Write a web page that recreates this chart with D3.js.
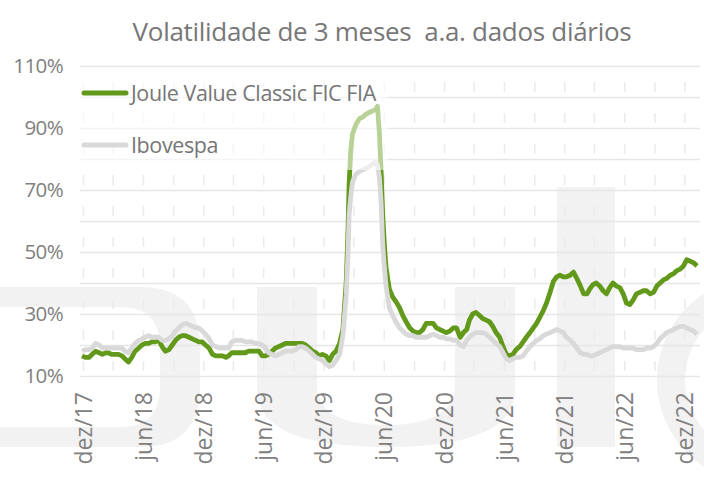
<!DOCTYPE html>
<html>
<head>
<meta charset="utf-8">
<script src="https://cdn.jsdelivr.net/npm/d3@7"></script>
<style>
  html, body { margin: 0; padding: 0; background: #fff; }
  svg { display: block; font-family: "Open Sans", sans-serif; }
  .title { white-space: pre; }
</style>
</head>
<body>
<svg id="chart" width="704" height="484"></svg>
<script>
// Volatilidade de 3 meses a.a. (dados diários)
const dates = [
  "2017-12-11","2017-12-21",
  "2018-01-01","2018-01-11","2018-01-21","2018-02-01","2018-02-11","2018-02-21","2018-03-01","2018-03-11","2018-03-21",
  "2018-04-01","2018-04-11","2018-04-21","2018-05-01","2018-05-11","2018-05-21","2018-06-01","2018-06-11","2018-06-21",
  "2018-07-01","2018-07-11","2018-07-21","2018-08-01","2018-08-11","2018-08-21","2018-09-01","2018-09-11","2018-09-21",
  "2018-10-01","2018-10-11","2018-10-21","2018-11-01","2018-11-11","2018-11-21","2018-12-01","2018-12-11","2018-12-21",
  "2019-01-01","2019-01-11","2019-01-21","2019-02-01","2019-02-11","2019-02-21","2019-03-01","2019-03-11","2019-03-21",
  "2019-04-01","2019-04-11","2019-04-21","2019-05-01","2019-05-11","2019-05-21","2019-06-01","2019-06-11","2019-06-21",
  "2019-07-01","2019-07-11","2019-07-21","2019-08-01","2019-08-11","2019-08-21","2019-09-01","2019-09-11","2019-09-21",
  "2019-10-01","2019-10-11","2019-10-21","2019-11-01","2019-11-11","2019-11-21","2019-12-01","2019-12-11","2019-12-21",
  "2020-01-01","2020-01-11","2020-01-21","2020-02-01","2020-02-11","2020-02-21","2020-02-26","2020-03-01","2020-03-06",
  "2020-03-11","2020-03-21","2020-04-01","2020-04-11","2020-04-21","2020-05-01","2020-05-11","2020-05-21","2020-05-26",
  "2020-06-01","2020-06-06","2020-06-11","2020-06-16","2020-06-21","2020-07-01","2020-07-11","2020-07-21",
  "2020-08-01","2020-08-11","2020-08-21","2020-09-01","2020-09-11","2020-09-21","2020-10-01","2020-10-11","2020-10-21",
  "2020-11-01","2020-11-11","2020-11-21","2020-12-01","2020-12-11","2020-12-21",
  "2021-01-01","2021-01-11","2021-01-21","2021-02-01","2021-02-11","2021-02-21","2021-03-01","2021-03-11","2021-03-21",
  "2021-04-01","2021-04-11","2021-04-21","2021-05-01","2021-05-11","2021-05-21","2021-06-01","2021-06-11","2021-06-21",
  "2021-07-01","2021-07-11","2021-07-21","2021-08-01","2021-08-11","2021-08-21","2021-09-01","2021-09-11","2021-09-21",
  "2021-10-01","2021-10-11","2021-10-21","2021-11-01","2021-11-11","2021-11-21","2021-12-01","2021-12-11","2021-12-21",
  "2022-01-01","2022-01-11","2022-01-21","2022-02-01","2022-02-11","2022-02-21","2022-03-01","2022-03-11","2022-03-21",
  "2022-04-01","2022-04-11","2022-04-21","2022-05-01","2022-05-11","2022-05-21","2022-06-01","2022-06-11","2022-06-21",
  "2022-07-01","2022-07-11","2022-07-21","2022-08-01","2022-08-11","2022-08-21","2022-09-01","2022-09-11","2022-09-21",
  "2022-10-01","2022-10-11","2022-10-21","2022-11-01","2022-11-11","2022-11-21","2022-12-01","2022-12-11","2022-12-21",
  "2023-01-01","2023-01-11","2023-01-21"
];

const joule = [
  16.5,16,
  16,17,18,17.5,17,17.5,17.5,17,17,
  17,16.5,15.5,14.5,16,18,19,20,20.5,
  20.5,21,21,21.5,19.5,18,18.5,20,21.5,
  22.5,23,23,22.5,22,21.5,21,21,20,
  19,17,16.5,16.5,16.5,16,16.5,17.5,17.5,
  17.5,17.5,17.5,18,18,18,18,16.5,16.5,
  17,18,19,19.5,20,20.5,20.5,20.5,20.5,
  20.5,20.5,20,19,18,17.5,16.5,17,16.5,
  15,17,18,20.5,25,40,55,72,83,
  88,91,93,93.5,94.5,95,95.5,96,97,
  88,76,62,52,45,38,35.5,34,
  32,29.5,27.5,25.5,24.5,24,24,25,27,
  27,27,25.5,25,24.5,24,
  24.5,25.5,25.5,22.5,24,25,28,30,30.5,
  29.5,28.5,28,27.5,26,24,22.5,19.5,17,
  16.5,17,18.5,19.5,21,22.5,24,25.5,27,
  29,31,33.5,37,40.5,42,42.5,42,42,
  42.5,43.5,41.5,39,36.5,36.5,38,39.5,40,
  39,37.5,36.5,38.5,40,39,38.5,36.5,33.5,
  33,34.5,36.5,37,37.5,37.5,36.5,37,39,
  40,41,41.5,42.5,43,44,44.5,45.5,47.5,
  47,46.5,45.5
];

const ibovespa = [
  18,18.5,
  18.5,19,20.5,20,19,19,19,19,19,
  19,19,18,17.5,19,20.5,21.5,22,22.5,
  23,22.5,22.5,22.5,21.5,21.5,22,23,24.5,
  25.5,26.5,27,26.5,26,25.5,25.5,24.5,23.5,
  22,20,19.5,19,19,19,19,21,21.5,
  21.5,21.5,21,21,21,20.5,20.5,20,19,
  17.5,17,16.5,17,17.5,18,18,18,18.5,
  19.5,19.5,19,18,17,16,15.5,15,14,
  13,13.5,15,17,23,36,48,62,68,
  72.5,75,76,76.5,77,77.5,78.5,79,78,
  74,66,52,45,39,32,29.5,27.5,
  25.5,24.5,23.5,23,23,22.5,22.5,22.5,22.5,
  23,23.5,23,22.5,22.5,22,
  22,21.5,21.5,20,19.5,21.5,22.5,23.5,24,
  24,24,23.5,22.5,21.5,20.5,19.5,17.5,15.5,
  15,15.5,16,16,16.5,18,19.5,20.5,21.5,
  22,23,23.5,24,24.5,25,24.5,24,22.5,
  21.5,20.5,19,17.5,17,17,16.5,16.5,17,
  17.5,18,18.5,19,19.5,19.5,19.5,19,19,
  19,19,18.5,18.5,18.5,19,19,19.5,20.5,
  22,23,24,24.5,25,25.5,26,26,25.5,
  25,24.5,23.5
];

const tickDates = ["2017-12-14","2018-06-14","2018-12-14","2019-06-14","2019-12-14","2020-06-14",
                   "2020-12-14","2021-06-14","2021-12-14","2022-06-14","2022-12-14"];
const tickLabels = ["dez/17","jun/18","dez/18","jun/19","dez/19","jun/20",
                    "dez/20","jun/21","dez/21","jun/22","dez/22"];
const yTicks = [10, 30, 50, 70, 90, 110];
const seriesNames = ["Joule Value Classic FIC FIA", "Ibovespa"];
const title = "Volatilidade de 3 meses  a.a. dados diários";

const parse = d3.timeParse("%Y-%m-%d");
const svg = d3.select("#chart");

const x = d3.scaleTime()
  .domain([parse(dates[0]), parse(dates[dates.length - 1])])
  .range([82, 697]);
const y = d3.scaleLinear().domain([10, 110]).range([376, 66]);

// watermark (logo letters, very faint)
const wm = svg.append("g").attr("fill", "#f2f2f2");
wm.append("path").attr("fill-rule", "evenodd")
  .attr("d", "M-200,347 Q-200,287 -140,287 H140 Q200,287 200,347 V387 Q200,447 140,447 H-140 Q-200,447 -200,387 Z" +
             "M-160,347 Q-160,307 -120,307 H120 Q160,307 160,347 V387 Q160,427 120,427 H-120 Q-160,427 -160,387 Z");
wm.append("path")
  .attr("d", "M257,287 H317 V385 Q317,425 386,425 Q455,425 455,385 V287 H515 V390 Q515,447 386,447 Q257,447 257,390 Z");
wm.append("rect").attr("x", 557).attr("y", 187).attr("width", 58).attr("height", 260);
wm.append("path").attr("fill-rule", "evenodd")
  .attr("d", "M657,380 A103,103 0 1,0 863,380 A103,103 0 1,0 657,380 Z M685,380 A75,75 0 1,0 835,380 A75,75 0 1,0 685,380 Z");

// horizontal gridlines every 10%
svg.append("g")
  .attr("transform", "translate(80,0)")
  .call(d3.axisLeft(y).tickValues(d3.range(10, 111, 10)).tickSize(-620).tickFormat(""))
  .call(g => g.select(".domain").remove())
  .call(g => g.selectAll("line").attr("stroke", "#e6e6e6").attr("stroke-width", 1.6));

// vertical dashed gridlines every 3 months
const t0 = parse(tickDates[0]);
const qDates = d3.range(0, 21).map(i => d3.timeMonth.offset(t0, i * 3));
svg.append("g")
  .attr("transform", "translate(0,376)")
  .call(d3.axisBottom(x).tickValues(qDates).tickSize(-310).tickFormat(""))
  .call(g => g.select(".domain").remove())
  .call(g => g.selectAll("line").attr("stroke", "#ebebeb").attr("stroke-width", 1.5)
    .attr("stroke-dasharray", "0 5 10 16"));

// series
const rows = dates.map((d, i) => ({ date: parse(d), a: joule[i], b: ibovespa[i] }));
const line = key => d3.line().x(d => x(d.date)).y(d => y(d[key]));
svg.append("path").datum(rows)
  .attr("fill", "none").attr("stroke", "#62991a").attr("stroke-width", 4.8)
  .attr("stroke-linejoin", "round").attr("d", line("a"));
svg.append("path").datum(rows)
  .attr("fill", "none").attr("stroke", "#d9d9d9").attr("stroke-width", 4.8)
  .attr("stroke-linejoin", "round").attr("d", line("b"));

// legend (semi-transparent box on top of the lines)
svg.append("rect").attr("x", 68).attr("y", 67).attr("width", 320).attr("height", 103)
  .attr("fill", "#fff").attr("opacity", 0.55);
const leg = svg.append("g");
[["#62991a", 93], ["#d9d9d9", 145]].forEach(([c, ly], i) => {
  leg.append("line").attr("x1", 84).attr("x2", 126).attr("y1", ly).attr("y2", ly)
    .attr("stroke", c).attr("stroke-width", 5).attr("stroke-linecap", "round");
  leg.append("text").attr("x", 131).attr("y", ly).attr("dy", "0.36em")
    .attr("font-size", 21.5).attr("fill", "#767676").attr("letter-spacing", -0.4)
    .text(seriesNames[i]);
});

// y axis labels
svg.append("g")
  .attr("transform", "translate(63,0)")
  .call(d3.axisLeft(y).tickValues(yTicks).tickSize(0).tickPadding(0).tickFormat(d => d + "%"))
  .call(g => g.select(".domain").remove())
  .call(g => g.selectAll("text").attr("font-size", 20.5).attr("fill", "#808080")
    .attr("font-family", "Open Sans, sans-serif").attr("letter-spacing", -0.6));

// x axis labels (rotated)
svg.append("g")
  .attr("transform", "translate(0,376)")
  .call(d3.axisBottom(x).tickValues(tickDates.map(parse)).tickSize(0)
    .tickFormat((d, i) => tickLabels[i]))
  .call(g => g.select(".domain").remove())
  .call(g => g.selectAll("text")
    .attr("font-size", 23).attr("fill", "#808080").attr("font-family", "Open Sans, sans-serif")
    .attr("text-anchor", "end").attr("dy", "0.35em")
    .attr("transform", "translate(0,16) rotate(-90)").attr("x", 0).attr("y", 0));

// title
svg.append("text").attr("class", "title")
  .attr("x", 382).attr("y", 41).attr("text-anchor", "middle")
  .attr("font-size", 26).attr("fill", "#777").attr("letter-spacing", -0.3)
  .text(title);
</script>
</body>
</html>
